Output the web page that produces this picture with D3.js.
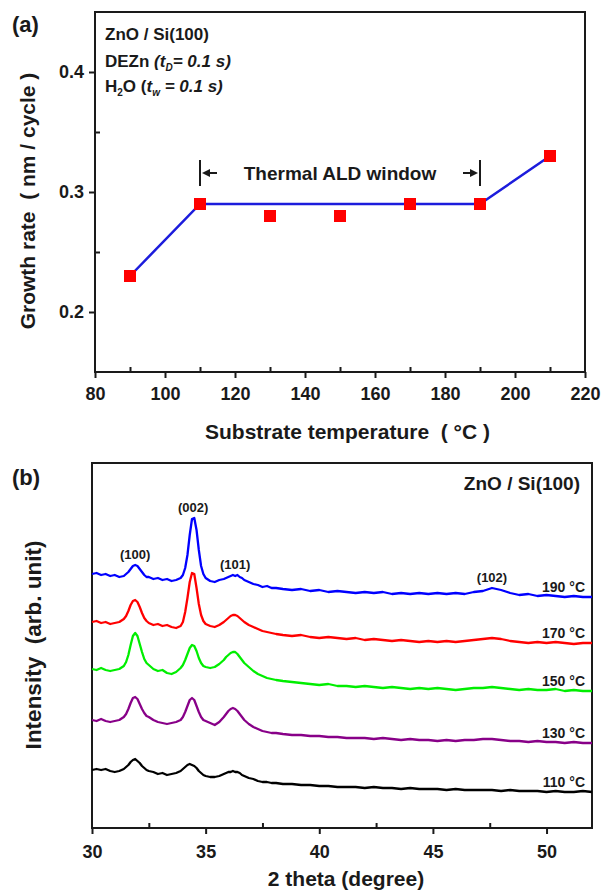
<!DOCTYPE html>
<html>
<head>
<meta charset="utf-8">
<script src="https://cdnjs.cloudflare.com/ajax/libs/d3/7.8.5/d3.min.js"></script>
<style>
  body { margin: 0; background: #fff; }
  svg { display: block; }
  text { font-family: "Liberation Sans", Arial, sans-serif; font-weight: bold; fill: #1a1a1a; }
</style>
</head>
<body>
<svg width="612" height="895"></svg>
<script>
// (a) growth rate vs substrate temperature
var temps = [90, 110, 130, 150, 170, 190, 210];
var rates = [0.23, 0.29, 0.28, 0.28, 0.29, 0.29, 0.33];
var fitTemps = [90, 110, 190, 210];
var fitRates = [0.23, 0.29, 0.29, 0.33];
var tempTicks = [80, 100, 120, 140, 160, 180, 200, 220];
var tempMinor = [90, 110, 130, 150, 170, 190, 210];
var rateTicks = [0.2, 0.3, 0.4];
var rateMinor = [0.25, 0.35];
var windowStart = 110, windowEnd = 190;

// (b) XRD patterns, intensity in arb. unit
var twoTheta = [30.0, 30.2, 30.4, 30.6, 30.8, 31.0, 31.2, 31.4,
  31.5, 31.6, 31.7, 31.8, 31.9, 32.0, 32.1, 32.2, 32.3, 32.4, 32.5,
  32.7, 32.9, 33.1, 33.3, 33.5, 33.7, 33.9,
  34.0, 34.1, 34.2, 34.3, 34.4, 34.5, 34.6, 34.7, 34.8, 34.9, 35.0,
  35.2, 35.4, 35.6, 35.8,
  35.9, 36.0, 36.1, 36.2, 36.3, 36.4, 36.5, 36.6, 36.7,
  36.9, 37.1, 37.3, 37.5, 37.7, 37.9, 38.1,
  38.4, 38.8, 39.2, 39.6, 40.0, 40.4, 40.8, 41.2, 41.6, 42.0,
  42.4, 42.8, 43.2, 43.6, 44.0, 44.4, 44.8, 45.2, 45.6, 46.0,
  46.4, 46.8, 47.2, 47.6, 48.0, 48.4, 48.8, 49.2, 49.6, 50.0,
  50.4, 50.8, 51.2, 51.6, 52.0];
var xrd190 = [254, 255, 253, 254, 252, 253, 251, 252,
  254, 256, 259, 262, 263, 262, 259, 256, 253, 251, 251,
  249, 250, 248, 249, 247, 248, 250,
  253, 260, 273, 293, 309, 310, 298, 278, 262, 254, 250,
  247, 246, 248, 249,
  250, 251, 252, 253, 252, 253, 251, 250, 248,
  246, 244, 243, 241, 242, 240, 240,
  239, 238, 239, 237, 238, 236, 237, 236, 235, 236,
  235, 236, 234, 235, 234, 235, 234, 235, 234, 235,
  234, 236, 237, 240, 238, 235, 233, 234, 232, 233,
  232, 231, 232, 231, 231];
var xrd170 = [206, 207, 205, 206, 204, 205, 206, 209,
  212, 217, 223, 227, 228, 226, 221, 215, 210, 207, 205,
  203, 204, 202, 203, 201, 200, 202,
  206, 216, 230, 246, 255, 254, 240, 224, 213, 207, 204,
  202, 201, 203, 206,
  208, 210, 212, 213, 213, 212, 210, 208, 206,
  203, 201, 199, 197, 196, 195, 194,
  193, 192, 193, 191, 190, 191, 190, 189, 190, 188,
  189, 188, 187, 188, 187, 186, 187, 186, 187, 186,
  187, 188, 189, 190, 189, 187, 186, 185, 186, 185,
  186, 185, 184, 185, 185];
var xrd150 = [159, 158, 160, 158, 157, 158, 159, 162,
  166, 173, 183, 192, 195, 192, 184, 176, 169, 165, 163,
  159, 157, 158, 155, 154, 156, 160,
  163, 168, 174, 180, 183, 182, 177, 170, 165, 162, 161,
  160, 161, 164, 168,
  171, 173, 175, 176, 176, 174, 171, 168, 165,
  161, 157, 154, 152, 150, 149, 148,
  147, 146, 145, 144, 143, 144, 142, 142, 141, 142,
  141, 140, 141, 140, 139, 140, 139, 140, 139, 138,
  139, 140, 140, 141, 140, 139, 138, 139, 138, 138,
  139, 137, 138, 137, 137];
var xrd130 = [108, 107, 109, 107, 106, 107, 108, 111,
  114, 119, 125, 130, 131, 129, 124, 119, 115, 112, 111,
  108, 106, 105, 104, 105, 106, 108,
  111, 116, 122, 128, 130, 128, 122, 116, 111, 108, 107,
  105, 103, 106, 111,
  114, 117, 119, 120, 119, 117, 114, 111, 108,
  104, 101, 99, 97, 96, 95, 95,
  94, 93, 93, 92, 92, 91, 91, 90, 90, 90,
  89, 90, 89, 88, 89, 88, 88, 87, 88, 87,
  88, 88, 89, 89, 88, 87, 87, 86, 87, 86,
  86, 85, 86, 85, 85];
var xrd110 = [58, 59, 58, 59, 57, 56, 57, 59,
  61, 63, 66, 68, 69, 67, 65, 62, 60, 58, 57,
  56, 54, 55, 53, 54, 55, 57,
  59, 61, 63, 64, 63, 62, 60, 57, 55, 53, 52,
  51, 51, 52, 54,
  55, 56, 56, 57, 56, 56, 55, 53, 52,
  50, 49, 47, 46, 46, 45, 45,
  44, 44, 43, 43, 42, 42, 41, 41, 41, 40,
  41, 40, 40, 39, 40, 39, 39, 39, 38, 39,
  38, 38, 38, 38, 37, 38, 37, 37, 37, 36,
  37, 36, 36, 37, 36];
var xrdSeries = [xrd190, xrd170, xrd150, xrd130, xrd110];
var xrdLabels = ["190 °C", "170 °C", "150 °C", "130 °C", "110 °C"];
var xrdColors = ["#0000ff", "#ff0000", "#00ee00", "#880088", "#000000"];
var peakNames = ["(100)", "(002)", "(101)", "(102)"];
var peakPos = [31.9, 34.45, 36.3, 47.6];
var thetaTicks = [30, 35, 40, 45, 50];
var thetaMinor = [32.5, 37.5, 42.5, 47.5];

var svg = d3.select("svg");

function styleAxis(g, size) {
    g.select(".domain").remove();
    g.selectAll(".tick line").attr("stroke", "#1a1a1a").attr("stroke-width", 2);
    g.selectAll(".tick text").attr("font-size", size).attr("font-family", null).attr("fill", "#1a1a1a");
}

// ---------- panel (a) ----------
var xA = d3.scaleLinear().domain([80, 220]).range([95, 585]);
var yA = d3.scaleLinear().domain([0.15, 0.45]).range([372, 12]);

var gA = svg.append("g");

gA.append("g")
  .attr("transform", "translate(0," + yA(0.15) + ")")
  .call(d3.axisBottom(xA).tickValues(tempTicks).tickSize(6).tickPadding(9).tickFormat(d3.format("d")))
  .call(styleAxis, 18);
gA.append("g")
  .attr("transform", "translate(0," + yA(0.15) + ")")
  .call(d3.axisBottom(xA).tickValues(tempMinor).tickSize(-5).tickFormat(""))
  .call(styleAxis, 18);
gA.append("g")
  .attr("transform", "translate(" + xA(80) + ",0)")
  .call(d3.axisLeft(yA).tickValues(rateTicks).tickSize(6).tickPadding(5).tickFormat(d3.format(".1f")))
  .call(styleAxis, 18);
gA.append("g")
  .attr("transform", "translate(" + xA(80) + ",0)")
  .call(d3.axisLeft(yA).tickValues(rateMinor).tickSize(-5).tickFormat(""))
  .call(styleAxis, 18);

gA.append("rect")
  .attr("x", xA(80)).attr("y", yA(0.45))
  .attr("width", xA(220) - xA(80)).attr("height", yA(0.15) - yA(0.45))
  .attr("fill", "none").attr("stroke", "#1a1a1a").attr("stroke-width", 2);

var fitLine = d3.line()
    .x(function(d, i) { return xA(fitTemps[i]); })
    .y(function(d) { return yA(d); });
gA.append("path")
  .attr("d", fitLine(fitRates))
  .attr("fill", "none").attr("stroke", "#1c1cdc").attr("stroke-width", 2.5);

gA.selectAll("rect.pt")
  .data(rates)
  .enter().append("rect")
  .attr("class", "pt")
  .attr("x", function(d, i) { return xA(temps[i]) - 6; })
  .attr("y", function(d) { return yA(d) - 6; })
  .attr("width", 12).attr("height", 12)
  .attr("fill", "#ff0000");

// thermal ALD window marker
var arrowY = yA(0.3) - 19;
var xs = xA(windowStart), xe = xA(windowEnd);
gA.append("line").attr("x1", xs).attr("x2", xs).attr("y1", arrowY - 13).attr("y2", arrowY + 13)
  .attr("stroke", "#1a1a1a").attr("stroke-width", 2);
gA.append("line").attr("x1", xe).attr("x2", xe).attr("y1", arrowY - 13).attr("y2", arrowY + 13)
  .attr("stroke", "#1a1a1a").attr("stroke-width", 2);
gA.append("path")
  .attr("d", "M" + (xs + 2) + "," + arrowY + "L" + (xs + 10) + "," + (arrowY - 4) + "L" + (xs + 10) + "," + (arrowY + 4) + "Z")
  .attr("fill", "#1a1a1a");
gA.append("line").attr("x1", xs + 9).attr("x2", xs + 17).attr("y1", arrowY).attr("y2", arrowY)
  .attr("stroke", "#1a1a1a").attr("stroke-width", 2);
gA.append("path")
  .attr("d", "M" + (xe - 2) + "," + arrowY + "L" + (xe - 10) + "," + (arrowY - 4) + "L" + (xe - 10) + "," + (arrowY + 4) + "Z")
  .attr("fill", "#1a1a1a");
gA.append("line").attr("x1", xe - 9).attr("x2", xe - 17).attr("y1", arrowY).attr("y2", arrowY)
  .attr("stroke", "#1a1a1a").attr("stroke-width", 2);
gA.append("text")
  .attr("x", (xs + xe) / 2).attr("y", arrowY + 7)
  .attr("text-anchor", "middle").attr("font-size", 19)
  .text("Thermal ALD window");

// legend text
gA.append("text").attr("x", 105).attr("y", 40).attr("font-size", 17).text("ZnO / Si(100)");
var l2 = gA.append("text").attr("x", 105).attr("y", 67).attr("font-size", 17);
l2.append("tspan").text("DEZn ");
l2.append("tspan").attr("font-style", "italic").text("(t");
l2.append("tspan").attr("font-style", "italic").attr("font-size", 10).attr("dy", 4).text("D");
l2.append("tspan").attr("font-style", "italic").attr("dy", -4).text("= 0.1 s)");
var l3 = gA.append("text").attr("x", 105).attr("y", 92).attr("font-size", 17);
l3.append("tspan").text("H");
l3.append("tspan").attr("font-size", 10).attr("dy", 4).text("2");
l3.append("tspan").attr("dy", -4).text("O (");
l3.append("tspan").attr("font-style", "italic").text("t");
l3.append("tspan").attr("font-style", "italic").attr("font-size", 10).attr("dy", 4).text("w");
l3.append("tspan").attr("font-style", "italic").attr("dy", -4).text(" = 0.1 s)");

gA.append("text").attr("x", 12).attr("y", 32).attr("font-size", 22).text("(a)");
gA.append("text")
  .attr("x", 205).attr("y", 439).attr("font-size", 21)
  .style("white-space", "pre")
  .text("Substrate temperature  ( °C )");
gA.append("text")
  .attr("transform", "translate(35,201) rotate(-90)")
  .attr("text-anchor", "middle").attr("font-size", 21)
  .style("white-space", "pre")
  .text("Growth rate  ( nm / cycle )");

// ---------- panel (b) ----------
var xB = d3.scaleLinear().domain([30, 52]).range([92, 592]);
var yB = d3.scaleLinear().domain([0, 365]).range([828, 463]);

var gB = svg.append("g");

gB.append("g")
  .attr("transform", "translate(0," + yB(0) + ")")
  .call(d3.axisBottom(xB).tickValues(thetaTicks).tickSize(6).tickPadding(11).tickFormat(d3.format("d")))
  .call(styleAxis, 18);
gB.append("g")
  .attr("transform", "translate(0," + yB(0) + ")")
  .call(d3.axisBottom(xB).tickValues(thetaMinor).tickSize(-5).tickFormat(""))
  .call(styleAxis, 18);

gB.append("rect")
  .attr("x", xB(30)).attr("y", yB(365))
  .attr("width", xB(52) - xB(30)).attr("height", yB(0) - yB(365))
  .attr("fill", "none").attr("stroke", "#1a1a1a").attr("stroke-width", 2);

var xrdLine = d3.line()
    .x(function(d, i) { return xB(twoTheta[i]); })
    .y(function(d) { return yB(d); });

gB.selectAll("path.xrd")
  .data(xrdSeries)
  .enter().append("path")
  .attr("class", "xrd")
  .attr("d", xrdLine)
  .attr("fill", "none")
  .attr("stroke", function(d, i) { return xrdColors[i]; })
  .attr("stroke-width", 2.3)
  .attr("stroke-linejoin", "round");

gB.selectAll("text.temp")
  .data(xrdSeries)
  .enter().append("text")
  .attr("class", "temp")
  .attr("x", xB(52) - 7)
  .attr("y", function(d) { return yB(d[d.length - 1]) - 5; })
  .attr("text-anchor", "end").attr("font-size", 14)
  .text(function(d, i) { return xrdLabels[i]; });

// peak labels sit above the 190 °C pattern
gB.selectAll("text.peak")
  .data(peakNames)
  .enter().append("text")
  .attr("class", "peak")
  .attr("x", function(d, i) { return xB(peakPos[i]); })
  .attr("y", function(d, i) {
      var j = d3.minIndex(twoTheta, function(t) { return Math.abs(t - peakPos[i]); });
      return yB(d3.max(xrd190.slice(Math.max(0, j - 1), j + 2))) - 6;
  })
  .attr("text-anchor", "middle").attr("font-size", 13)
  .text(function(d) { return d; });

gB.append("text")
  .attr("x", 580).attr("y", 490).attr("text-anchor", "end").attr("font-size", 19)
  .text("ZnO / Si(100)");
gB.append("text").attr("x", 12).attr("y", 485).attr("font-size", 22).text("(b)");
gB.append("text")
  .attr("x", 346).attr("y", 886).attr("text-anchor", "middle").attr("font-size", 21)
  .text("2 theta (degree)");
gB.append("text")
  .attr("transform", "translate(41,645) rotate(-90)")
  .attr("text-anchor", "middle").attr("font-size", 22.5)
  .style("white-space", "pre")
  .text("Intensity  (arb. unit)");
</script>
</body>
</html>
